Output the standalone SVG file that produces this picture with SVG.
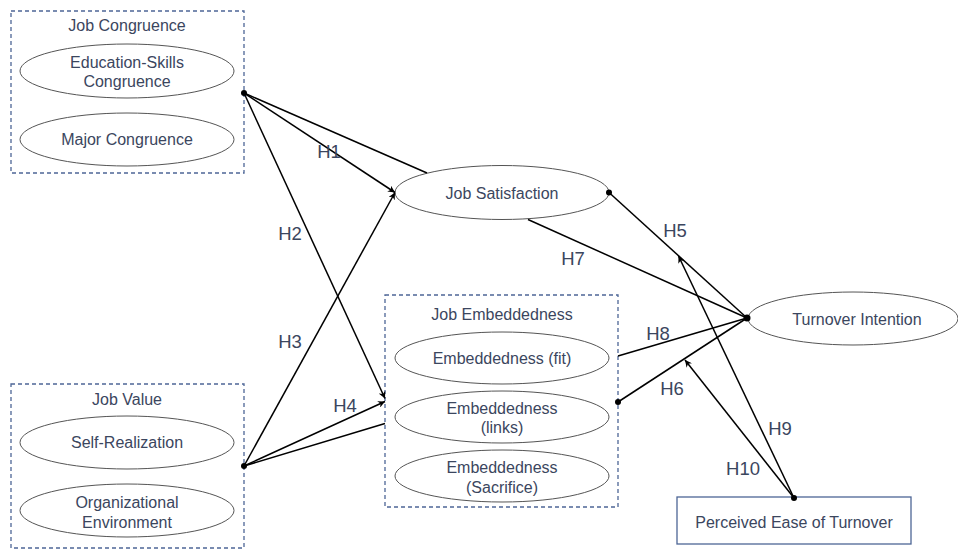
<svg xmlns="http://www.w3.org/2000/svg" width="958" height="550" viewBox="0 0 958 550">
<defs>
<marker id="arr" viewBox="0 0 10 10" refX="10" refY="5" markerWidth="7" markerHeight="7" markerUnits="userSpaceOnUse" orient="auto">
<path d="M0,0 L10,5 L0,10 L3,5 Z" fill="#000"/>
</marker>
<style>
.grp{fill:none;stroke:#4d6696;stroke-width:1.3;stroke-dasharray:4 3}
.ell{fill:#fff;stroke:#555;stroke-width:1}
.box{fill:#fff;stroke:#4d6696;stroke-width:1.3}
.t{font-family:"Liberation Sans",Arial,sans-serif;font-size:16px;fill:#3b465e;text-anchor:middle;dominant-baseline:central}
.h{font-family:"Liberation Sans",Arial,sans-serif;font-size:18.5px;fill:#3b465e;text-anchor:middle;dominant-baseline:central}
.c{fill:none;stroke:#000;stroke-width:1.5}
.a{marker-end:url(#arr)}
.dot{fill:#000}
</style>
</defs>

<g id="job-congruence">
<rect class="grp" x="11" y="11" width="233" height="162"/>
<text class="t" x="127" y="25">Job Congruence</text>
<g id="education-skills-congruence">
<ellipse class="ell" cx="127" cy="71" rx="107" ry="27"/>
<text class="t" x="127" y="62">Education-Skills</text>
<text class="t" x="127" y="81">Congruence</text>
</g>
<g id="major-congruence">
<ellipse class="ell" cx="127" cy="139.5" rx="107" ry="26.5"/>
<text class="t" x="127" y="139">Major Congruence</text>
</g>
</g>

<g id="job-value">
<rect class="grp" x="11" y="384" width="233" height="164"/>
<text class="t" x="127" y="399">Job Value</text>
<g id="self-realization">
<ellipse class="ell" cx="127" cy="442.5" rx="107" ry="26.5"/>
<text class="t" x="127" y="442">Self-Realization</text>
</g>
<g id="organizational-environment">
<ellipse class="ell" cx="127" cy="510.5" rx="107" ry="26.5"/>
<text class="t" x="127" y="502">Organizational</text>
<text class="t" x="127" y="522">Environment</text>
</g>
</g>

<g id="job-satisfaction">
<ellipse class="ell" cx="502" cy="192.5" rx="107" ry="27"/>
<text class="t" x="502" y="193">Job Satisfaction</text>
</g>

<g id="job-embeddedness">
<rect class="grp" x="385" y="295" width="233" height="212"/>
<text class="t" x="502" y="314">Job Embeddedness</text>
<g id="embeddedness-fit">
<ellipse class="ell" cx="502" cy="358" rx="107" ry="26"/>
<text class="t" x="502" y="358">Embeddedness (fit)</text>
</g>
<g id="embeddedness-links">
<ellipse class="ell" cx="502" cy="417" rx="107" ry="26"/>
<text class="t" x="502" y="408">Embeddedness</text>
<text class="t" x="502" y="427">(links)</text>
</g>
<g id="embeddedness-sacrifice">
<ellipse class="ell" cx="502" cy="476" rx="107" ry="26"/>
<text class="t" x="502" y="467">Embeddedness</text>
<text class="t" x="502" y="487">(Sacrifice)</text>
</g>
</g>

<g id="turnover-intention">
<ellipse class="ell" cx="853" cy="318.5" rx="105" ry="26.5"/>
<text class="t" x="857" y="319">Turnover Intention</text>
</g>

<g id="perceived-ease-of-turnover">
<rect class="box" x="677" y="497" width="234" height="47"/>
<text class="t" x="794" y="522">Perceived Ease of Turnover</text>
</g>

<g id="connectors">
<line class="c" x1="244" y1="93" x2="427" y2="173"/>
<line class="c a" x1="244" y1="93" x2="395" y2="192.5"/>
<line class="c a" x1="244" y1="93" x2="385" y2="398.5"/>
<line class="c a" x1="244" y1="466" x2="395" y2="192.5"/>
<line class="c a" x1="244" y1="466" x2="385" y2="401.5"/>
<line class="c" x1="244" y1="466" x2="385" y2="423.5"/>
<line class="c" x1="609" y1="192.5" x2="747" y2="318"/>
<line class="c" x1="528" y1="219.5" x2="747" y2="318"/>
<line class="c" x1="618" y1="356" x2="747" y2="318"/>
<line class="c" x1="618" y1="402" x2="747" y2="318"/>
<line class="c a" x1="794" y1="498" x2="678.5" y2="256"/>
<line class="c a" x1="794" y1="498" x2="685" y2="360"/>
<circle class="dot" cx="244" cy="93" r="3"/>
<circle class="dot" cx="244" cy="466" r="3"/>
<circle class="dot" cx="609" cy="192.5" r="3"/>
<circle class="dot" cx="618" cy="402" r="3"/>
<circle class="dot" cx="747" cy="318" r="3.5"/>
<circle class="dot" cx="794" cy="498" r="3"/>
<text class="h" x="329" y="151">H1</text>
<text class="h" x="290" y="233">H2</text>
<text class="h" x="290" y="341">H3</text>
<text class="h" x="345" y="405">H4</text>
<text class="h" x="675" y="230">H5</text>
<text class="h" x="672" y="388">H6</text>
<text class="h" x="573" y="258">H7</text>
<text class="h" x="658" y="333">H8</text>
<text class="h" x="780" y="428">H9</text>
<text class="h" x="743" y="468">H10</text>
</g>
</svg>
